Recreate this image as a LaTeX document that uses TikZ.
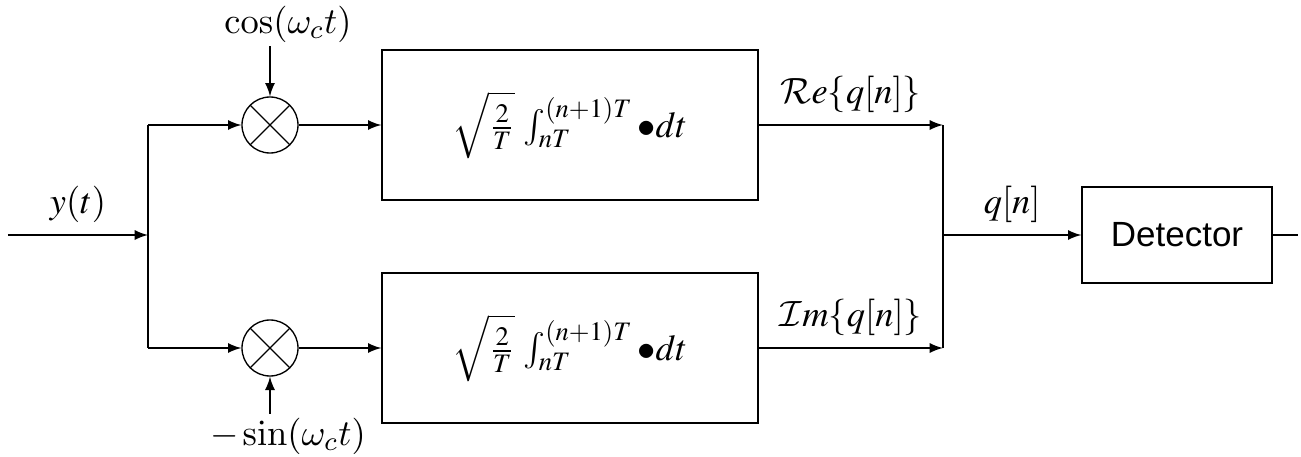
\documentclass[tikz,border=0pt,11pt]{standalone}
\usepackage{amsmath}
\usepackage{mathptmx}
\usepackage[no-math]{fontspec}
\setsansfont{Liberation Sans}
% Computer Modern calligraphic and a CM math version for the carrier labels
\DeclareMathAlphabet{\mathcal}{OMS}{cmsy}{m}{n}
\DeclareMathVersion{cm}
\SetSymbolFont{operators}{cm}{OT1}{cmr}{m}{n}
\SetSymbolFont{letters}{cm}{OML}{cmm}{m}{it}
\SetSymbolFont{symbols}{cm}{OMS}{cmsy}{m}{n}
\SetSymbolFont{largesymbols}{cm}{OMX}{cmex}{m}{n}
\usetikzlibrary{positioning}
\tikzset{>=latex}
\tikzset{
  intblock/.style={draw, minimum width=112.8pt, minimum height=45pt, inner sep=0pt},
  detblock/.style={draw, minimum width=57pt, minimum height=28.8pt, inner sep=0pt,
    font=\sffamily\fontsize{10.5}{12}\selectfont},
  carrier/.style={inner sep=1pt, font=\mathversion{cm}},
  mixer/.style={circle, draw, minimum size=16.8pt, inner sep=0pt,
    path picture={
      \draw (path picture bounding box.north west) -- (path picture bounding box.south east);
      \draw (path picture bounding box.north east) -- (path picture bounding box.south west);
    }},
}
\newcommand{\integrator}{$\sqrt{\frac{2}{T}}\,\int_{nT}^{(n+1)T}\bullet dt$}

\begin{document}
\begin{tikzpicture}[x=0.3pt, y=-0.3pt]
  \useasboundingbox (0,0) rectangle (1301,457);
  % input and split
  \coordinate (in) at (8,235);
  \coordinate (split) at (148,235);
  \coordinate (splittop) at (148,125);
  \coordinate (splitbot) at (148,348);
  % mixers and carriers
  \node[mixer] (mixI) at (270,125) {};
  \node[mixer] (mixQ) at (270,348) {};
  \node[carrier] (cosin) at (288,24) {$\cos(\omega_c t)$};
  \node[carrier] (sinin) at (288,436) {$-\sin(\omega_c t)$};
  % integrators
  \node[intblock] (intI) at (570,125) {\integrator};
  \node[intblock] (intQ) at (570,348) {\integrator};
  % combiner and detector
  \coordinate (combtop) at (943,125);
  \coordinate (combbot) at (943,348);
  \coordinate (comb) at (943,235);
  \node[detblock] (det) at (1177,235) {Detector};
  \coordinate (out) at (1298,235);

  \draw[->] (in) -- node[above] (ylab) {$y(t)$} (split);
  \draw (splittop) -- (splitbot);
  \draw[->] (splittop) -- (mixI.west);
  \draw[->] (splitbot) -- (mixQ.west);
  \draw[->] (cosin.south -| mixI) -- (mixI);
  \draw[->] (sinin.north -| mixQ) -- (mixQ);
  \draw[->] (mixI.east) -- (intI.west);
  \draw[->] (mixQ.east) -- (intQ.west);
  \draw[->] (intI.east |- combtop) -- node[above] (relab) {$\mathcal{R}e\{q[n]\}$} (combtop);
  \draw[->] (intQ.east |- combbot) -- node[above] (imlab) {$\mathcal{I}m\{q[n]\}$} (combbot);
  \draw (combtop) -- (combbot);
  \draw[->] (comb) -- node[above] (qlab) {$q[n]$} (det.west);
  \draw (det.east) -- (out);
\end{tikzpicture}
\end{document}
